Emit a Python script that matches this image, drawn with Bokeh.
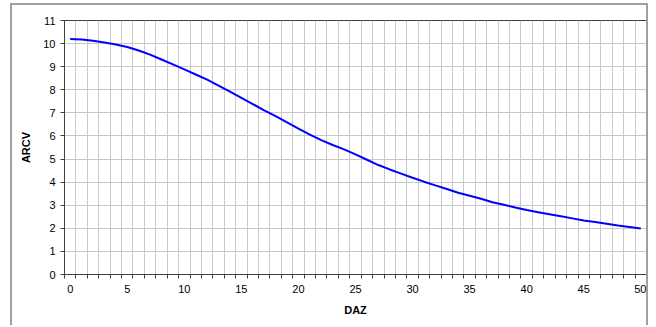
from bokeh.plotting import figure
from bokeh.models import FixedTicker, Range1d
from bokeh.embed import file_html
from bokeh.resources import INLINE

daz = list(range(0, 51))
arcv = [10.20, 10.18, 10.12, 10.05, 9.96, 9.85, 9.70, 9.52, 9.31, 9.10,
        8.88, 8.66, 8.44, 8.18, 7.92, 7.65, 7.38, 7.11, 6.86, 6.59,
        6.32, 6.06, 5.82, 5.61, 5.42, 5.20, 4.97, 4.74, 4.55, 4.37,
        4.19, 4.02, 3.86, 3.70, 3.54, 3.41, 3.28, 3.13, 3.02, 2.90,
        2.79, 2.70, 2.61, 2.52, 2.43, 2.34, 2.27, 2.20, 2.12, 2.06,
        1.99]
x_labels = [0, 5, 10, 15, 20, 25, 30, 35, 40, 45, 50]
y_ticks = list(range(0, 12))

FONT = "Liberation Sans"

p = figure(width=638, height=322, output_backend="svg", toolbar_location=None,
           x_range=Range1d(-0.5, 50.5), y_range=Range1d(0, 11),
           min_border_left=52, min_border_right=4, min_border_top=15,
           min_border_bottom=53)
p.styles = {"margin-left": "10px", "margin-top": "3px",
            "border-top": "2px solid #a0a0a0", "border-left": "2px solid #a0a0a0",
            "border-right": "2px solid #a0a0a0"}

p.background_fill_color = "white"
p.border_fill_color = "white"
p.outline_line_color = "#404040"
p.outline_line_width = 1

bounds = [i - 0.5 for i in range(0, 52)]

p.xaxis.ticker = FixedTicker(ticks=x_labels, minor_ticks=bounds)
p.xaxis.major_tick_line_color = None
p.xaxis.major_tick_out = 4
p.xaxis.major_tick_in = 0
p.xaxis.minor_tick_line_color = "#404040"
p.xaxis.minor_tick_out = 4
p.xaxis.minor_tick_in = 0
p.xaxis.major_label_standoff = 6
p.xaxis.axis_label = "DAZ"
p.xaxis.axis_label_standoff = 8

p.yaxis.ticker = FixedTicker(ticks=y_ticks)
p.yaxis.major_tick_line_color = "#404040"
p.yaxis.major_tick_out = 4
p.yaxis.major_tick_in = 0
p.yaxis.minor_tick_line_color = None
p.yaxis.major_label_standoff = 5
p.yaxis.axis_label = "ARCV"
p.yaxis.axis_label_standoff = 8

for ax in (p.xaxis, p.yaxis):
    ax.axis_line_color = "#404040"
    ax.major_label_text_font = FONT
    ax.major_label_text_font_size = "11px"
    ax.major_label_text_color = "#000000"
    ax.axis_label_text_font = FONT
    ax.axis_label_text_font_size = "11px"
    ax.axis_label_text_font_style = "bold"
    ax.axis_label_text_color = "#000000"

p.xgrid.ticker = FixedTicker(ticks=bounds)
p.xgrid.grid_line_color = "#c8c8c8"
p.ygrid.ticker = FixedTicker(ticks=y_ticks)
p.ygrid.grid_line_color = "#c8c8c8"

p.line(daz, arcv, line_color="#0000ff", line_width=2)

open("out.html", "w").write(file_html(p, INLINE))
